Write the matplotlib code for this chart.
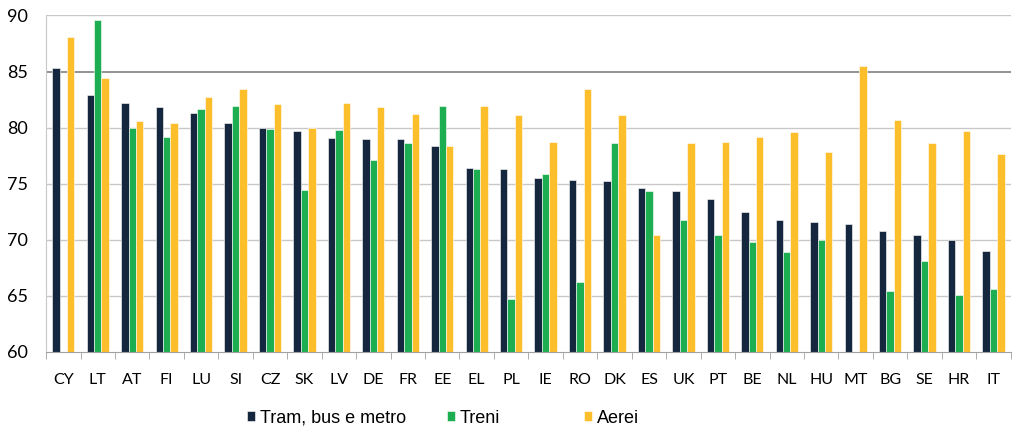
import numpy as np
import matplotlib.pyplot as plt

# data
countries = ["CY", "LT", "AT", "FI", "LU", "SI", "CZ", "SK", "LV", "DE", "FR", "EE", "EL", "PL",
             "IE", "RO", "DK", "ES", "UK", "PT", "BE", "NL", "HU", "MT", "BG", "SE", "HR", "IT"]
tram = [85.3, 82.9, 82.2, 81.8, 81.3, 80.4, 80.0, 79.7, 79.1, 79.0, 79.0, 78.4, 76.4, 76.3,
        75.5, 75.3, 75.2, 74.6, 74.3, 73.6, 72.5, 71.8, 71.6, 71.4, 70.8, 70.4, 70.0, 69.0]
treni = [np.nan, 89.6, 80.0, 79.2, 81.7, 81.9, 79.9, 74.4, 79.8, 77.1, 78.6, 81.9, 76.3, 64.7,
         75.9, 66.2, 78.6, 74.3, 71.8, 70.4, 69.8, 68.9, 70.0, np.nan, 65.4, 68.1, 65.1, 65.6]
aerei = [88.1, 84.4, 80.6, 80.4, 82.7, 83.4, 82.1, 80.0, 82.2, 81.8, 81.2, 78.4, 81.9, 81.1,
         78.7, 83.4, 81.1, 70.4, 78.6, 78.7, 79.2, 79.6, 77.8, 85.5, 80.7, 78.6, 79.7, 77.6]
labels = ["Tram, bus e metro", "Treni", "Aerei"]
colors = ["#15273f", "#1eae52", "#fdbe2c"]

fig = plt.figure(figsize=(10.24, 4.42), dpi=100)
ax = fig.add_axes([0.045, 0.204, 0.942, 0.761])

x = np.arange(len(countries))
w = 0.215
bars = []
for i, (vals, lab, col) in enumerate(zip([tram, treni, aerei], labels, colors)):
    b = ax.bar(x + (i - 1) * w, vals, width=w, bottom=0, color=col, label=lab,
               edgecolor="white", linewidth=0.4)
    bars.append(b)

ax.set_ylim(60, 90)
ax.set_xlim(-0.5, len(countries) - 0.5)
ax.set_yticks(range(60, 91, 5))
for v in range(65, 91, 5):
    ax.axhline(v, color="#7f7f7f" if v == 85 else "#c8c8c8", lw=1.2 if v == 85 else 1.0, zorder=0)

ax.set_xticks(x)
ax.set_xticklabels(countries, fontsize=11.5, family="Lato")
ax.set_xticks(np.arange(-0.5, len(countries), 1), minor=True)
ax.tick_params(axis="x", which="major", length=0, pad=15)
ax.tick_params(axis="x", which="minor", length=5, color="#a0a0a0")
ax.tick_params(axis="y", length=0, labelsize=13, pad=13)
for t in ax.get_yticklabels():
    t.set_family("Lato")

for s in ["top", "right"]:
    ax.spines[s].set_visible(False)
ax.spines["left"].set_color("#c8c8c8")
ax.spines["bottom"].set_color("#a0a0a0")

# legend entries placed one by one, spacing is uneven in the original
leg_x = [247, 447, 584]
for b, lab, px in zip(bars, labels, leg_x):
    lg = fig.legend([b], [lab], loc="center left", bbox_to_anchor=(px / 1024, 0.054),
                    frameon=False, prop={"family": "Liberation Sans", "size": 13},
                    handlelength=0.45, handleheight=0.45, handletextpad=0.25,
                    borderpad=0, borderaxespad=0)

fig.savefig("out.png", dpi=100)
